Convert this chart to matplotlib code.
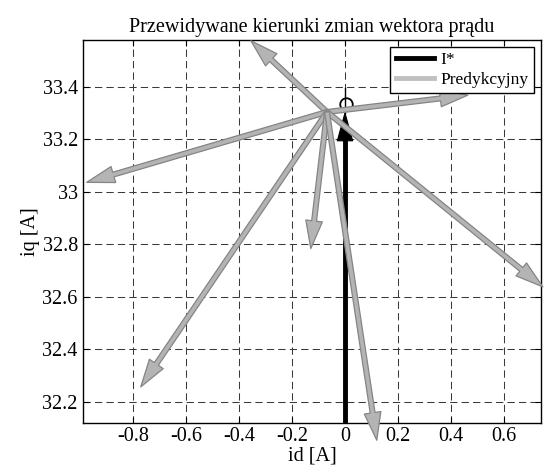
import numpy as np
import matplotlib.pyplot as plt

plt.rcParams['font.family'] = ['Liberation Serif', 'DejaVu Serif']
plt.rcParams['axes.unicode_minus'] = False

# punkt startowy (aktualny prad)
origin_id = -0.068
origin_iq = 33.304

# koncowki wektorow predykcyjnych
pred_id = [-0.355, 0.464, -0.975, -0.771, -0.129, 0.747, 0.120]
pred_iq = [33.575, 33.368, 33.036, 32.257, 32.784, 32.638, 32.054]

# wektor zadany I*
ref_id = 0.0
ref_iq_tip = 33.30
ref_iq_top = 33.395
ref_marker_iq = 33.335

x_ticks = [-0.8, -0.6, -0.4, -0.2, 0, 0.2, 0.4, 0.6]
x_labels = ['-0.8', '-0.6', '-0.4', '-0.2', '0', '0.2', '0.4', '0.6']
y_ticks = [32.2, 32.4, 32.6, 32.8, 33, 33.2, 33.4]
y_labels = ['32.2', '32.4', '32.6', '32.8', '33', '33.2', '33.4']

xlim = (-0.99, 0.74)
ylim = (32.1215, 33.578)

fig = plt.figure(figsize=(5.45, 4.69), dpi=100)
ax = fig.add_axes([0.1518, 0.0991, 0.8409, 0.8156])
ax.set_xlim(xlim)
ax.set_ylim(ylim)

# siatka
ax.set_xticks(x_ticks)
ax.set_xticklabels(x_labels)
ax.set_yticks(y_ticks)
ax.set_yticklabels(y_labels)
ax.grid(True, color='#3a3a3a', linestyle=(0, (7, 4)), linewidth=0.75)
ax.tick_params(direction='in', length=4, top=True, right=True, labelsize=14.5, width=0.8)
for s in ax.spines.values():
    s.set_linewidth(1.0)

# I* - czarny wektor
ax.plot([ref_id, ref_id], [ylim[0], ref_iq_tip - 0.05], color='black', lw=3.5, solid_capstyle='butt', zorder=3)
ax.annotate('', xy=(ref_id, ref_iq_tip), xytext=(ref_id, ref_iq_tip - 0.1),
            arrowprops=dict(arrowstyle='simple,head_length=2.0,head_width=1.1,tail_width=0.3',
                            fc='black', ec='black', lw=0.8, shrinkA=0, shrinkB=0),
            annotation_clip=False, zorder=3)
ax.plot([ref_id, ref_id], [ref_iq_tip, ref_iq_top], color='black', lw=1.0, zorder=3)
ax.plot([ref_id + 0.003], [ref_marker_iq], 'o', mfc='none', mec='black', ms=9, mew=1.3, zorder=3)

# wektory predykcyjne
for xe, ye in zip(pred_id, pred_iq):
    ax.annotate('', xy=(xe, ye), xytext=(origin_id, origin_iq),
                arrowprops=dict(arrowstyle='simple,head_length=2.0,head_width=1.2,tail_width=0.35',
                                fc='#b4b4b4', ec='#858585', lw=0.9, shrinkA=0, shrinkB=0),
                annotation_clip=False, zorder=4)

# legenda
h1, = ax.plot([], [], color='black', lw=3.5, label='I*')
h2, = ax.plot([], [], color='#c0c0c0', lw=3.5, label='Predykcyjny')
leg = ax.legend(handles=[h1, h2], loc='upper right', fontsize=12.5, fancybox=False,
                framealpha=1, edgecolor='black', borderaxespad=0.4, handlelength=2.2,
                borderpad=0.3, labelspacing=0.2, handletextpad=0.4)
leg.get_frame().set_linewidth(1.0)
leg.set_zorder(10)

ax.set_title('Przewidywane kierunki zmian wektora prądu', fontsize=14.5, pad=6)
ax.set_xlabel('id [A]', fontsize=14.5, labelpad=0)
ax.set_ylabel('iq [A]', fontsize=14.5, labelpad=2)

fig.savefig('out.png', dpi=100)
